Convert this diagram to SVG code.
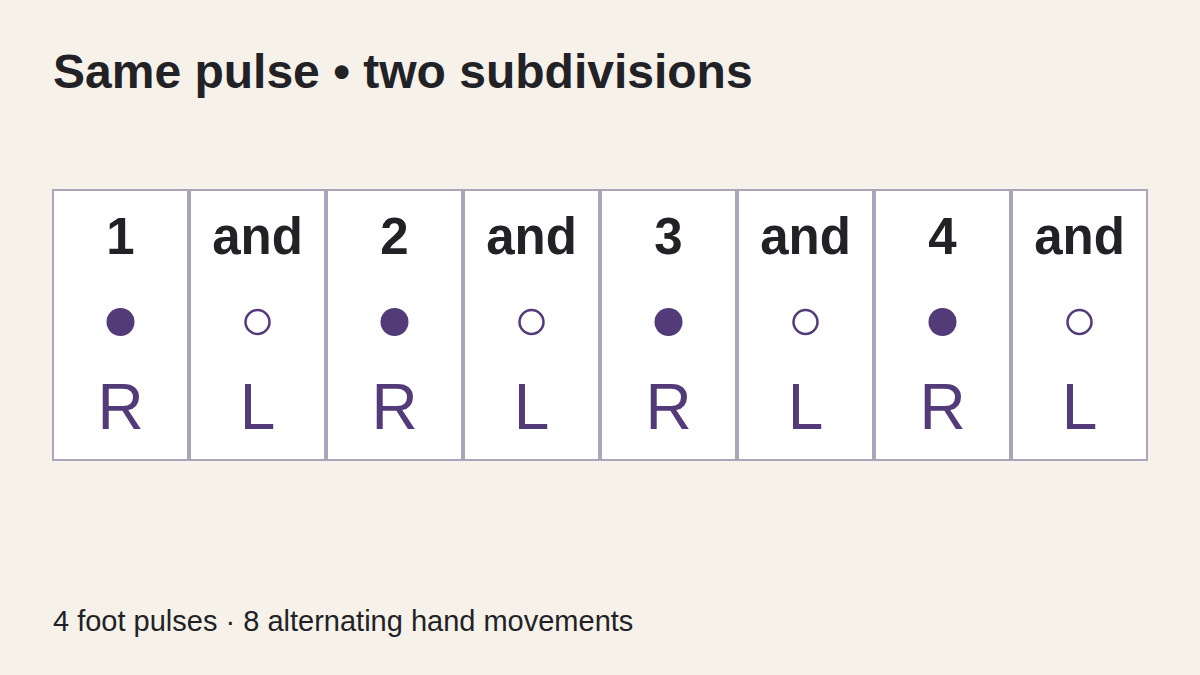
<svg xmlns="http://www.w3.org/2000/svg" width="1200" height="675" viewBox="0 0 1200 675">
<style>
.bg{fill:#f6f2ea}
.cell{fill:#ffffff;stroke:#aca5ba;stroke-width:2}
.cnt{font-family:"Liberation Sans",Arial,sans-serif;font-weight:bold;font-size:51px;fill:#222226;text-anchor:middle}
.hand{font-family:"Liberation Sans",Arial,sans-serif;font-size:64px;fill:#533a78;text-anchor:middle}
.on{fill:#533a78}
.off{fill:none;stroke:#533a78;stroke-width:2.5}
.title{font-family:"Liberation Sans",Arial,sans-serif;font-weight:bold;font-size:48px;fill:#222226}
.foot{font-family:"Liberation Sans",Arial,sans-serif;font-size:29px;fill:#222226}
</style>
<rect class="bg" x="0" y="0" width="1200" height="675"/>
<text class="title" x="53" y="88">Same pulse • two subdivisions</text>
<g id="cell1"><rect class="cell" x="53" y="190" width="135" height="270"/><text class="cnt" x="120.5" y="254">1</text><circle class="on" cx="120.5" cy="322" r="14"/><text class="hand" x="120.5" y="429">R</text></g>
<g id="cell2"><rect class="cell" x="190" y="190" width="135" height="270"/><text class="cnt" x="257.5" y="254">and</text><circle class="off" cx="257.5" cy="322" r="12"/><text class="hand" x="257.5" y="429">L</text></g>
<g id="cell3"><rect class="cell" x="327" y="190" width="135" height="270"/><text class="cnt" x="394.5" y="254">2</text><circle class="on" cx="394.5" cy="322" r="14"/><text class="hand" x="394.5" y="429">R</text></g>
<g id="cell4"><rect class="cell" x="464" y="190" width="135" height="270"/><text class="cnt" x="531.5" y="254">and</text><circle class="off" cx="531.5" cy="322" r="12"/><text class="hand" x="531.5" y="429">L</text></g>
<g id="cell5"><rect class="cell" x="601" y="190" width="135" height="270"/><text class="cnt" x="668.5" y="254">3</text><circle class="on" cx="668.5" cy="322" r="14"/><text class="hand" x="668.5" y="429">R</text></g>
<g id="cell6"><rect class="cell" x="738" y="190" width="135" height="270"/><text class="cnt" x="805.5" y="254">and</text><circle class="off" cx="805.5" cy="322" r="12"/><text class="hand" x="805.5" y="429">L</text></g>
<g id="cell7"><rect class="cell" x="875" y="190" width="135" height="270"/><text class="cnt" x="942.5" y="254">4</text><circle class="on" cx="942.5" cy="322" r="14"/><text class="hand" x="942.5" y="429">R</text></g>
<g id="cell8"><rect class="cell" x="1012" y="190" width="135" height="270"/><text class="cnt" x="1079.5" y="254">and</text><circle class="off" cx="1079.5" cy="322" r="12"/><text class="hand" x="1079.5" y="429">L</text></g>
<g id="connectors"></g>
<text class="foot" x="53" y="631">4 foot pulses · 8 alternating hand movements</text>
</svg>
